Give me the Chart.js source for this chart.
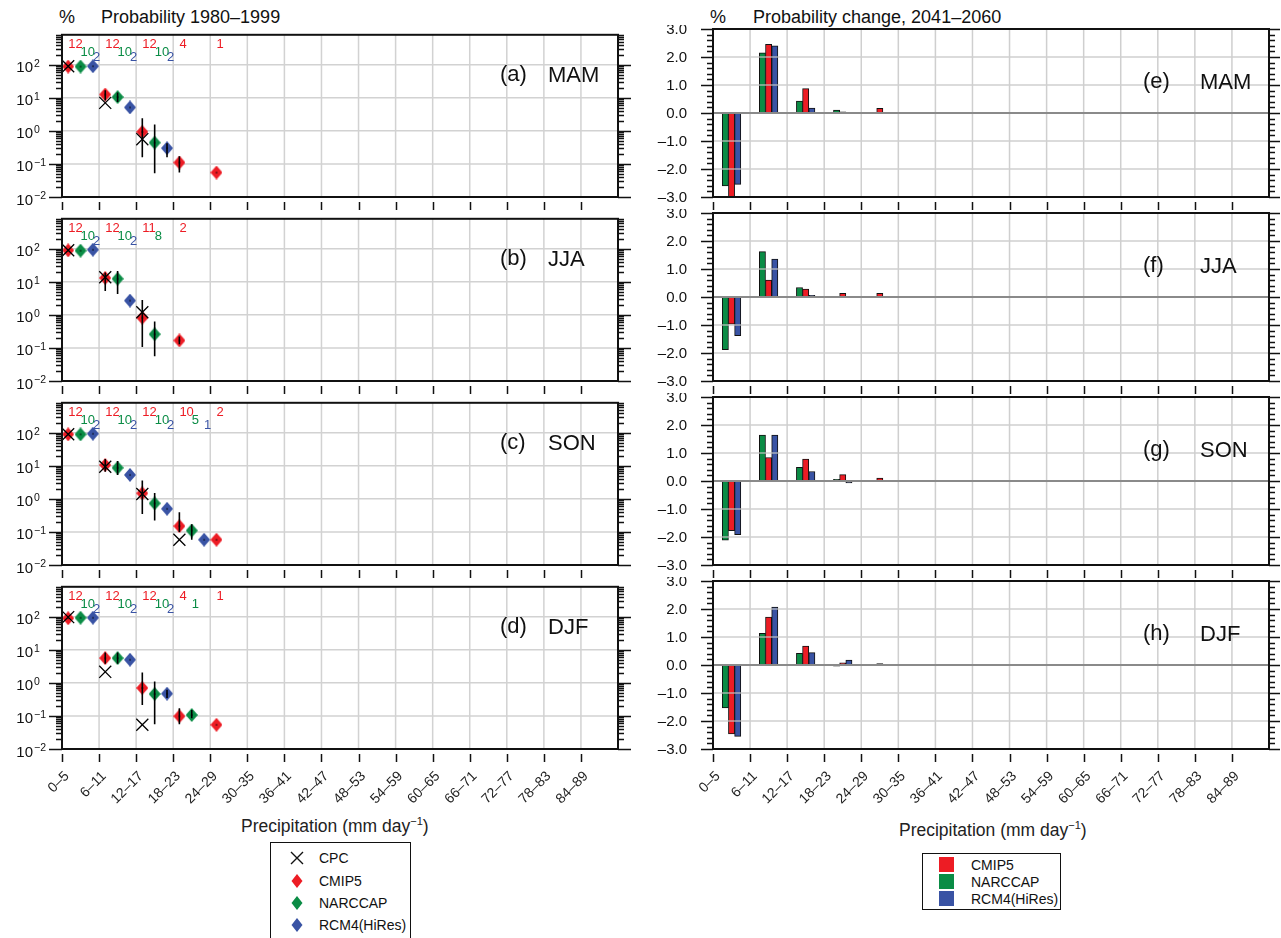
<!DOCTYPE html>
<html>
<head>
<meta charset="utf-8">
<script src="https://cdn.jsdelivr.net/npm/chart.js@4.4.0/dist/chart.umd.min.js"></script>
<style>
  body { margin: 0; background: #fff; font-family: "Liberation Sans", Arial, sans-serif; color: #111; }
  #page { position: relative; width: 1281px; height: 938px; overflow: hidden; }
  canvas.panel { position: absolute; }
  .txt { position: absolute; white-space: nowrap; line-height: 1; }
  .hdr { font-size: 18px; }
  .axt { font-size: 17.5px; color: #222; }
  .axt sup { font-size: 11px; vertical-align: 7px; line-height: 0; }
  .legend { position: absolute; border: 1.5px solid #111; background: #fff; font-size: 14px; }
  .legend .row { position: absolute; left: 0; height: 18px; display: flex; align-items: center; }
</style>
</head>
<body>
<div id="page">
  <div class="txt hdr" style="left:59px; top:8px;">%</div>
  <div class="txt hdr" style="left:101px; top:8px;">Probability 1980–1999</div>
  <div class="txt hdr" style="left:710px; top:8px;">%</div>
  <div class="txt hdr" style="left:753px; top:8px;">Probability change, 2041–2060</div>

  <div class="txt axt" style="left:241px; top:818px;">Precipitation (mm day<sup>−1</sup>)</div>
  <div class="txt axt" style="left:899px; top:822px;">Precipitation (mm day<sup>−1</sup>)</div>

  <div class="legend" style="left:270px; top:842px; width:139px; height:110px;">
    <div class="row" style="top:6px;"><svg width="48" height="18"><path d="M20 3 L32 15 M32 3 L20 15" stroke="#111" stroke-width="1.4"/></svg>CPC</div>
    <div class="row" style="top:29px;"><svg width="48" height="18"><path d="M26 2 L31.5 9 L26 16 L20.5 9 Z" fill="#ed1c24"/></svg>CMIP5</div>
    <div class="row" style="top:51px;"><svg width="48" height="18"><path d="M26 2 L31.5 9 L26 16 L20.5 9 Z" fill="#0a8c45"/></svg>NARCCAP</div>
    <div class="row" style="top:73px;"><svg width="48" height="18"><path d="M26 2 L31.5 9 L26 16 L20.5 9 Z" fill="#3953a4"/></svg>RCM4(HiRes)</div>
  </div>

  <div class="legend" style="left:922px; top:853px; width:137px; height:55px;">
    <div class="row" style="top:2px;"><svg width="48" height="18"><rect x="16" y="1" width="15" height="15" fill="#ed1c24"/></svg>CMIP5</div>
    <div class="row" style="top:19px;"><svg width="48" height="18"><rect x="16" y="1" width="15" height="15" fill="#0a8c45"/></svg>NARCCAP</div>
    <div class="row" style="top:36px;"><svg width="48" height="18"><rect x="16" y="1" width="15" height="15" fill="#3953a4"/></svg>RCM4(HiRes)</div>
  </div>
</div>
<script>
// precipitation bins (mm day-1), 6 mm wide
const BIN_LABELS = ['0–5', '6–11', '12–17', '18–23', '24–29', '30–35', '36–41', '42–47',
                    '48–53', '54–59', '60–65', '66–71', '72–77', '78–83', '84–89'];
const BIN_WIDTH = 6;
const X_MAX = 90;

// left column: probability (%) 1980-1999, log axis
const LOG_MIN = 0.01;
const LOG_MAX = 800;
const LOG_TICKS = [0.01, 0.1, 1, 10, 100];
const LOG_EXP = ['−2', '−1', '0', '1', '2'];

// right column: probability change (%), 2041-2060
const CHG_TICKS = [-3, -2, -1, 0, 1, 2, 3];
const CHG_LABELS = ['–3.0', '–2.0', '–1.0', '0.0', '1.0', '2.0', '3.0'];

// ---- MAM ----
const mamCpc        = [90, 7.0, 0.56, null, null];
const mamCmip5      = [88, 12.5, 0.93, 0.11, 0.055];
const mamCmip5Lo    = [null, 8.3, 0.16, 0.055, null];
const mamCmip5Hi    = [null, 17, 2.4, 0.17, null];
const mamCmip5N     = [12, 12, 12, 4, 1];
const mamNarccap    = [88, 10.5, 0.44, null, null];
const mamNarccapLo  = [null, 7.4, 0.052, null, null];
const mamNarccapHi  = [null, 14.5, 1.55, null, null];
const mamNarccapN   = [10, 10, 10, null, null];
const mamRcm4       = [90, 5.1, 0.30, null, null];
const mamRcm4Lo     = [null, null, 0.16, null, null];
const mamRcm4Hi     = [null, null, 0.42, null, null];
const mamRcm4N      = [2, 2, 2, null, null];
const mamChgCmip5   = [-3.05, 2.45, 0.87, 0.04, 0.17];
const mamChgNarccap = [-2.6, 2.15, 0.43, 0.1, null];
const mamChgRcm4    = [-2.55, 2.4, 0.18, null, null];

// ---- JJA ----
const jjaCpc        = [90, 13.7, 1.2, null, null];
const jjaCmip5      = [89, 13.1, 0.82, 0.168, null];
const jjaCmip5Lo    = [null, 5.3, 0.106, 0.13, null];
const jjaCmip5Hi    = [null, 19, 2.8, 0.22, null];
const jjaCmip5N     = [12, 12, 11, 2, null];
const jjaNarccap    = [87, 12.3, 0.26, null, null];
const jjaNarccapLo  = [null, 4.3, 0.056, null, null];
const jjaNarccapHi  = [null, 21, 0.63, null, null];
const jjaNarccapN   = [10, 10, 8, null, null];
const jjaRcm4       = [93, 2.7, null, null, null];
const jjaRcm4Lo     = [null, null, null, null, null];
const jjaRcm4Hi     = [null, null, null, null, null];
const jjaRcm4N      = [2, 2, null, null, null];
const jjaChgCmip5   = [-0.97, 0.60, 0.28, 0.13, 0.13];
const jjaChgNarccap = [-1.88, 1.62, 0.34, null, null];
const jjaChgRcm4    = [-1.38, 1.35, 0.06, null, null];

// ---- SON ----
const sonCpc        = [90, 9.3, 1.4, 0.058, null];
const sonCmip5      = [89, 10.5, 1.47, 0.15, 0.058];
const sonCmip5Lo    = [null, 6.6, 0.35, 0.1, null];
const sonCmip5Hi    = [null, 16, 3.6, 0.39, null];
const sonCmip5N     = [12, 12, 12, 10, 2];
const sonNarccap    = [89, 8.7, 0.73, 0.11, null];
const sonNarccapLo  = [null, 5.3, 0.22, 0.058, null];
const sonNarccapHi  = [null, 14, 1.5, 0.17, null];
const sonNarccapN   = [10, 10, 10, 5, null];
const sonRcm4       = [93, 5.3, 0.50, 0.058, null];
const sonRcm4Lo     = [null, null, null, null, null];
const sonRcm4Hi     = [null, null, null, null, null];
const sonRcm4N      = [2, 2, 2, 1, null];
const sonChgCmip5   = [-1.77, 0.84, 0.78, 0.23, 0.1];
const sonChgNarccap = [-2.11, 1.64, 0.49, 0.06, null];
const sonChgRcm4    = [-1.92, 1.64, 0.34, -0.07, null];

// ---- DJF ----
const djfCpc        = [97, 2.15, 0.054, null, null];
const djfCmip5      = [90, 5.6, 0.70, 0.098, 0.054];
const djfCmip5Lo    = [null, 3.8, 0.215, 0.056, null];
const djfCmip5Hi    = [null, 8.3, 2.06, 0.17, null];
const djfCmip5N     = [12, 12, 12, 4, 1];
const djfNarccap    = [93, 5.6, 0.46, 0.107, null];
const djfNarccapLo  = [null, 3.8, 0.056, 0.085, null];
const djfNarccapHi  = [null, 8.3, 1.1, 0.15, null];
const djfNarccapN   = [10, 10, 10, 1, null];
const djfRcm4       = [93, 5.0, 0.47, null, null];
const djfRcm4Lo     = [null, null, 0.35, null, null];
const djfRcm4Hi     = [null, null, 0.62, null, null];
const djfRcm4N      = [2, 2, 2, null, null];
const djfChgCmip5   = [-2.46, 1.71, 0.68, 0.08, 0.05];
const djfChgNarccap = [-1.53, 1.13, 0.42, -0.04, null];
const djfChgRcm4    = [-2.55, 2.07, 0.44, 0.18, null];

const RED = '#ed1c24', GREEN = '#0a8c45', BLUE = '#3953a4';
const GRID = '#d2d2d2';
const FONT = '"Liberation Sans", Arial, sans-serif';

// panel geometry
const ROW_TOP = [29, 213, 397, 581];
const PLOT_H = 168, PLOT_W = 556;
const page = document.getElementById('page');

function addCanvas(left, top, w, h) {
  const c = document.createElement('canvas');
  c.className = 'panel';
  c.width = w; c.height = h;
  c.style.left = left + 'px'; c.style.top = top + 'px';
  c.style.width = w + 'px'; c.style.height = h + 'px';
  page.appendChild(c);
  return c;
}

function makeDiamond(color) {
  const c = document.createElement('canvas');
  c.width = 12; c.height = 14;
  const g = c.getContext('2d');
  g.fillStyle = color;
  g.beginPath();
  g.moveTo(6, 0); g.lineTo(12, 7); g.lineTo(6, 14); g.lineTo(0, 7);
  g.closePath(); g.fill();
  g.fillStyle = '#000';
  g.fillRect(5.4, 6.4, 1.3, 1.3);
  return c;
}

function pts(values, off) {
  const out = [];
  values.forEach((v, i) => { if (v !== null) out.push({ x: i * BIN_WIDTH + off, y: v }); });
  return out;
}

// shared axis decorations
function drawXTicks(ctx, a, x, bottomRow) {
  ctx.strokeStyle = '#111'; ctx.lineWidth = 1.5;
  ctx.beginPath();
  for (let i = 0; i < BIN_LABELS.length; i++) {
    const px = Math.round(x.getPixelForValue(i * BIN_WIDTH)) + 0.5;
    ctx.moveTo(px, a.bottom + 5); ctx.lineTo(px, a.bottom + 13);
  }
  ctx.stroke();
  if (!bottomRow) return;
  ctx.fillStyle = '#222';
  ctx.font = '14px ' + FONT;
  ctx.textAlign = 'right'; ctx.textBaseline = 'middle';
  BIN_LABELS.forEach((lab, i) => {
    const px = x.getPixelForValue(i * BIN_WIDTH);
    ctx.save();
    ctx.translate(px + 5, a.bottom + 25);
    ctx.rotate(-Math.PI / 4);
    ctx.fillText(lab, 0, 0);
    ctx.restore();
  });
}

function drawFrame(ctx, a) {
  ctx.strokeStyle = '#111'; ctx.lineWidth = 2;
  ctx.strokeRect(a.left, a.top, a.width, a.height);
}

function drawTag(ctx, a, tag, season, dx, gap, dy) {
  ctx.fillStyle = '#111';
  ctx.font = '22px ' + FONT;
  ctx.textAlign = 'left'; ctx.textBaseline = 'middle';
  ctx.fillText(tag, a.left + dx, a.top + dy);
  ctx.fillText(season, a.left + dx + gap, a.top + dy + 1);
}

// ---- left column: probability, log scale ----
function probChart(row, p) {
  const bottomRow = row === 3;
  const padL = 62, padT = 4, padR = 16, padB = bottomRow ? 80 : 16;
  const cv = addCanvas(0, ROW_TOP[row] - padT, padL + PLOT_W + padR, padT + PLOT_H + padB);
  const series = [
    { vals: p.cmip5, lo: p.cmip5Lo, hi: p.cmip5Hi, n: p.cmip5N, off: 1, color: RED, base: 13 },
    { vals: p.narccap, lo: p.narccapLo, hi: p.narccapHi, n: p.narccapN, off: 3, color: GREEN, base: 21 },
    { vals: p.rcm4, lo: p.rcm4Lo, hi: p.rcm4Hi, n: p.rcm4N, off: 5, color: BLUE, base: 26 }
  ];
  const deco = {
    id: 'probDeco',
    beforeDatasetsDraw(chart) {
      const { ctx, chartArea: a, scales: { x, y } } = chart;
      ctx.save();
      ctx.strokeStyle = GRID; ctx.lineWidth = 1.5;
      ctx.beginPath();
      for (let i = 1; i < BIN_LABELS.length; i++) {
        const px = x.getPixelForValue(i * BIN_WIDTH);
        ctx.moveTo(px, a.top); ctx.lineTo(px, a.bottom);
      }
      LOG_TICKS.forEach(v => {
        if (v <= LOG_MIN) return;
        const py = y.getPixelForValue(v);
        ctx.moveTo(a.left, py); ctx.lineTo(a.right, py);
      });
      ctx.stroke();
      ctx.restore();
    },
    afterDatasetsDraw(chart) {
      const { ctx, chartArea: a, scales: { x, y } } = chart;
      ctx.save();
      // ensemble ranges
      ctx.strokeStyle = '#000'; ctx.lineWidth = 1.6;
      ctx.beginPath();
      series.forEach(s => {
        s.lo.forEach((lo, i) => {
          const hi = s.hi[i];
          if (lo === null || hi === null) return;
          const px = x.getPixelForValue(i * BIN_WIDTH + s.off);
          ctx.moveTo(px, y.getPixelForValue(lo)); ctx.lineTo(px, y.getPixelForValue(hi));
        });
      });
      ctx.stroke();
      // number of models
      ctx.font = '13px ' + FONT;
      ctx.textAlign = 'left'; ctx.textBaseline = 'alphabetic';
      series.forEach(s => {
        ctx.fillStyle = s.color;
        s.n.forEach((n, i) => {
          if (n === null) return;
          ctx.fillText(String(n), x.getPixelForValue(i * BIN_WIDTH + s.off), a.top + s.base);
        });
      });
      drawFrame(ctx, a);
      // y ticks, both sides, outward
      ctx.strokeStyle = '#111'; ctx.lineWidth = 1.3;
      ctx.beginPath();
      for (let e = -2; e <= 2; e++) {
        for (let k = 1; k <= 9; k++) {
          const v = k * Math.pow(10, e);
          if (v > LOG_MAX) break;
          const py = Math.round(y.getPixelForValue(v)) + 0.5;
          const len = k === 1 ? 13 : 6;
          ctx.moveTo(a.left - len, py); ctx.lineTo(a.left, py);
          ctx.moveTo(a.right, py); ctx.lineTo(a.right + len, py);
        }
      }
      ctx.stroke();
      ctx.fillStyle = '#111';
      LOG_TICKS.forEach((v, k) => {
        const py = y.getPixelForValue(v);
        ctx.font = '15px ' + FONT;
        ctx.textAlign = 'right';
        ctx.fillText('10', a.left - 29, py + 7.5);
        ctx.font = '10.5px ' + FONT;
        ctx.textAlign = 'left';
        ctx.fillText(LOG_EXP[k], a.left - 28, py + 2);
      });
      drawXTicks(ctx, a, x, bottomRow);
      drawTag(ctx, a, p.tag, p.season, 438, 48, 40);
      ctx.restore();
    }
  };
  new Chart(cv, {
    type: 'scatter',
    data: {
      datasets: [
        { label: 'CPC', data: pts(p.cpc, 1), pointStyle: 'crossRot', radius: 8.5,
          borderColor: '#000', backgroundColor: '#000', borderWidth: 1.3 },
        { label: 'CMIP5', data: pts(p.cmip5, 1), pointStyle: makeDiamond(RED) },
        { label: 'NARCCAP', data: pts(p.narccap, 3), pointStyle: makeDiamond(GREEN) },
        { label: 'RCM4(HiRes)', data: pts(p.rcm4, 5), pointStyle: makeDiamond(BLUE) }
      ]
    },
    options: {
      responsive: false, animation: false, events: [],
      layout: { padding: { left: padL, top: padT, right: padR, bottom: padB } },
      plugins: { legend: { display: false }, tooltip: { enabled: false } },
      scales: {
        x: { type: 'linear', min: 0, max: X_MAX, offset: false, display: false },
        y: { type: 'logarithmic', min: LOG_MIN, max: LOG_MAX, display: false }
      }
    },
    plugins: [deco]
  });
}

// ---- right column: probability change, bars ----
function changeChart(row, p) {
  const bottomRow = row === 3;
  const padL = 73, padT = 4, padR = 12, padB = bottomRow ? 80 : 16;
  const cv = addCanvas(640, ROW_TOP[row] - padT, padL + PLOT_W + padR, padT + PLOT_H + padB);
  const deco = {
    id: 'changeDeco',
    afterDatasetsDraw(chart) {
      const { ctx, chartArea: a, scales: { x, y } } = chart;
      ctx.save();
      ctx.strokeStyle = 'rgba(195,195,195,0.8)'; ctx.lineWidth = 1.5;
      ctx.beginPath();
      for (let i = 1; i < BIN_LABELS.length; i++) {
        const px = x.getPixelForValue(i * BIN_WIDTH);
        ctx.moveTo(px, a.top); ctx.lineTo(px, a.bottom);
      }
      CHG_TICKS.forEach(v => {
        if (v === 0 || Math.abs(v) === 3) return;
        const py = y.getPixelForValue(v);
        ctx.moveTo(a.left, py); ctx.lineTo(a.right, py);
      });
      ctx.stroke();
      ctx.strokeStyle = '#8a8a8a'; ctx.lineWidth = 2;
      ctx.beginPath();
      const y0 = y.getPixelForValue(0);
      ctx.moveTo(a.left, y0); ctx.lineTo(a.right, y0);
      ctx.stroke();
      drawFrame(ctx, a);
      ctx.strokeStyle = '#111'; ctx.lineWidth = 1.3;
      ctx.beginPath();
      for (let t = -15; t <= 15; t++) {
        const py = Math.round(y.getPixelForValue(t / 5)) + 0.5;
        const len = t % 5 === 0 ? 12 : 6;
        ctx.moveTo(a.left - len, py); ctx.lineTo(a.left, py);
        ctx.moveTo(a.right, py); ctx.lineTo(a.right + (t % 5 === 0 ? 11 : 6), py);
      }
      ctx.stroke();
      ctx.fillStyle = '#111';
      ctx.font = '15px ' + FONT;
      ctx.textAlign = 'right'; ctx.textBaseline = 'middle';
      CHG_TICKS.forEach((v, k) => {
        ctx.fillText(CHG_LABELS[k], a.left - 26, y.getPixelForValue(v) + 0.5);
      });
      drawXTicks(ctx, a, x, bottomRow);
      drawTag(ctx, a, p.tag, p.season, 430, 57, 53);
      ctx.restore();
    }
  };
  const barSet = (label, vals, off, color) => ({
    label, data: pts(vals, off), backgroundColor: color, borderColor: '#111',
    borderWidth: 1, barThickness: 6.2, grouped: false, borderSkipped: false
  });
  new Chart(cv, {
    type: 'bar',
    data: {
      datasets: [
        barSet('NARCCAP', p.narccap, 2, GREEN),
        barSet('CMIP5', p.cmip5, 3, RED),
        barSet('RCM4(HiRes)', p.rcm4, 4, BLUE)
      ]
    },
    options: {
      responsive: false, animation: false, events: [],
      layout: { padding: { left: padL, top: padT, right: padR, bottom: padB } },
      plugins: { legend: { display: false }, tooltip: { enabled: false } },
      scales: {
        x: { type: 'linear', min: 0, max: X_MAX, offset: false, display: false },
        y: { type: 'linear', min: -3, max: 3, display: false }
      }
    },
    plugins: [deco]
  });
}

probChart(0, { tag: '(a)', season: 'MAM', cpc: mamCpc,
  cmip5: mamCmip5, cmip5Lo: mamCmip5Lo, cmip5Hi: mamCmip5Hi, cmip5N: mamCmip5N,
  narccap: mamNarccap, narccapLo: mamNarccapLo, narccapHi: mamNarccapHi, narccapN: mamNarccapN,
  rcm4: mamRcm4, rcm4Lo: mamRcm4Lo, rcm4Hi: mamRcm4Hi, rcm4N: mamRcm4N });
probChart(1, { tag: '(b)', season: 'JJA', cpc: jjaCpc,
  cmip5: jjaCmip5, cmip5Lo: jjaCmip5Lo, cmip5Hi: jjaCmip5Hi, cmip5N: jjaCmip5N,
  narccap: jjaNarccap, narccapLo: jjaNarccapLo, narccapHi: jjaNarccapHi, narccapN: jjaNarccapN,
  rcm4: jjaRcm4, rcm4Lo: jjaRcm4Lo, rcm4Hi: jjaRcm4Hi, rcm4N: jjaRcm4N });
probChart(2, { tag: '(c)', season: 'SON', cpc: sonCpc,
  cmip5: sonCmip5, cmip5Lo: sonCmip5Lo, cmip5Hi: sonCmip5Hi, cmip5N: sonCmip5N,
  narccap: sonNarccap, narccapLo: sonNarccapLo, narccapHi: sonNarccapHi, narccapN: sonNarccapN,
  rcm4: sonRcm4, rcm4Lo: sonRcm4Lo, rcm4Hi: sonRcm4Hi, rcm4N: sonRcm4N });
probChart(3, { tag: '(d)', season: 'DJF', cpc: djfCpc,
  cmip5: djfCmip5, cmip5Lo: djfCmip5Lo, cmip5Hi: djfCmip5Hi, cmip5N: djfCmip5N,
  narccap: djfNarccap, narccapLo: djfNarccapLo, narccapHi: djfNarccapHi, narccapN: djfNarccapN,
  rcm4: djfRcm4, rcm4Lo: djfRcm4Lo, rcm4Hi: djfRcm4Hi, rcm4N: djfRcm4N });

changeChart(0, { tag: '(e)', season: 'MAM', cmip5: mamChgCmip5, narccap: mamChgNarccap, rcm4: mamChgRcm4 });
changeChart(1, { tag: '(f)', season: 'JJA', cmip5: jjaChgCmip5, narccap: jjaChgNarccap, rcm4: jjaChgRcm4 });
changeChart(2, { tag: '(g)', season: 'SON', cmip5: sonChgCmip5, narccap: sonChgNarccap, rcm4: sonChgRcm4 });
changeChart(3, { tag: '(h)', season: 'DJF', cmip5: djfChgCmip5, narccap: djfChgNarccap, rcm4: djfChgRcm4 });
</script>
</body>
</html>
